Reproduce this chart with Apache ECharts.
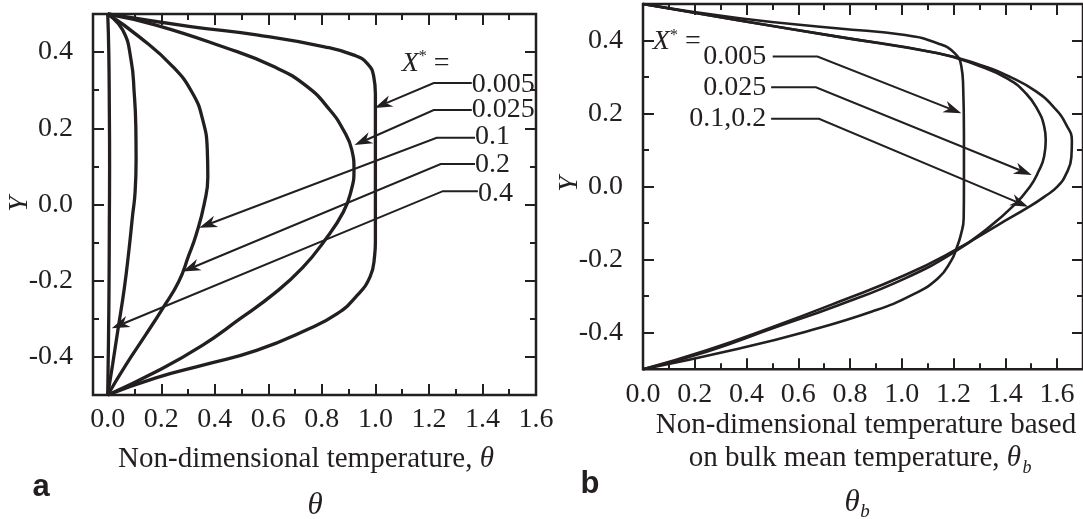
<!DOCTYPE html>
<html>
<head>
<meta charset="utf-8">
<script src="https://cdn.jsdelivr.net/npm/echarts@6/dist/echarts.min.js"></script>
<style>
  html, body { margin: 0; padding: 0; background: #fff; }
  #chart { width: 1083px; height: 519px; }
</style>
</head>
<body>
<div id="chart"></div>
<script>
var ink = '#231f20';
var serif = 'Liberation Serif';

// ---- panel a : [theta, Y], one array per X* ----
var thetaA_0005 = [[0, 0.5], [0.31, 0.467], [0.556, 0.445], [0.81, 0.414], [0.92, 0.392], [0.97, 0.37],
  [0.994, 0.335], [1.0, 0.29], [1.0, 0.2], [1.0, 0.1], [1.0, 0.0], [1.0, -0.1], [0.997, -0.135],
  [0.98, -0.19], [0.93, -0.24], [0.856, -0.287], [0.74, -0.33], [0.556, -0.383], [0.37, -0.419],
  [0.18, -0.455], [0, -0.5]];
var thetaA_0025 = [[0, 0.5], [0.18, 0.471], [0.43, 0.414], [0.62, 0.362], [0.744, 0.31], [0.83, 0.248],
  [0.88, 0.196], [0.912, 0.143], [0.92, 0.09], [0.91, 0.038], [0.88, -0.02], [0.81, -0.095],
  [0.729, -0.165], [0.625, -0.232], [0.492, -0.301], [0.355, -0.369], [0.18, -0.439], [0, -0.5]];
var thetaA_01 = [[0, 0.5], [0.118, 0.44], [0.243, 0.362], [0.317, 0.292], [0.355, 0.222], [0.372, 0.143],
  [0.374, 0.073], [0.361, 0.003], [0.33, -0.08], [0.302, -0.135], [0.265, -0.203], [0.205, -0.273],
  [0.141, -0.343], [0.068, -0.421], [0, -0.5]];
var thetaA_02 = [[0, 0.5], [0.056, 0.458], [0.087, 0.38], [0.099, 0.292], [0.105, 0.204], [0.106, 0.117],
  [0.102, 0.03], [0.093, -0.028], [0.08, -0.115], [0.062, -0.22], [0.037, -0.334], [0.018, -0.421], [0, -0.5]];
var thetaA_04 = [[0, 0.5], [0.004, 0.4], [0.006, 0.25], [0.007, 0.1], [0.006, -0.05], [0.005, -0.2],
  [0.003, -0.35], [0, -0.5]];

// leader arrows: [label side theta, Y, knee theta, Y, tip theta, tip Y]
var arrowsA = [[1.36, 0.319, 1.218, 0.319, 0.997, 0.253],
  [1.36, 0.248, 1.218, 0.248, 0.922, 0.156],
  [1.372, 0.175, 1.229, 0.175, 0.342, -0.061],
  [1.372, 0.106, 1.244, 0.106, 0.28, -0.176],
  [1.383, 0.035, 1.252, 0.035, 0.015, -0.325]];
var labelsA = ['0.005', '0.025', '0.1', '0.2', '0.4'];
var labelPosA = [[1.36, 0.314], [1.36, 0.248], [1.372, 0.177], [1.372, 0.104], [1.383, 0.028]];
var xStarPosA = [[1.098, 0.371]];

// ---- panel b : [theta_b, Y] ----
var thetaB_0005 = [[0, 0.5], [0.373, 0.461], [0.757, 0.433], [1.013, 0.415], [1.14, 0.392], [1.205, 0.365],
  [1.23, 0.329], [1.237, 0.274], [1.24, 0.146], [1.24, 0.0], [1.239, -0.087], [1.228, -0.132],
  [1.211, -0.169], [1.192, -0.201], [1.14, -0.251], [1.038, -0.297], [0.885, -0.342], [0.629, -0.397],
  [0.373, -0.443], [0, -0.5]];
var thetaB_0025 = [[0, 0.5], [0.373, 0.455], [0.757, 0.41], [1.14, 0.365], [1.3, 0.33], [1.41, 0.295],
  [1.48, 0.255], [1.525, 0.21], [1.55, 0.165], [1.556, 0.128], [1.55, 0.083], [1.527, 0.04], [1.495, 0.0],
  [1.435, -0.05], [1.332, -0.114], [1.205, -0.178], [1.013, -0.251], [0.757, -0.324], [0.501, -0.388],
  [0.246, -0.452], [0, -0.5]];
var thetaB_01_02 = [[0, 0.5], [0.373, 0.455], [0.757, 0.41], [1.14, 0.365], [1.3, 0.334], [1.42, 0.3],
  [1.52, 0.26], [1.59, 0.215], [1.635, 0.17], [1.657, 0.125], [1.655, 0.08], [1.635, 0.035], [1.601, 0.0],
  [1.55, -0.028], [1.499, -0.052], [1.371, -0.105], [1.205, -0.174], [1.013, -0.242], [0.757, -0.315],
  [0.501, -0.384], [0.246, -0.448], [0, -0.5]];

var arrowsB = [[0.501, 0.356, 0.674, 0.356, 1.23, 0.201],
  [0.495, 0.272, 0.668, 0.272, 1.502, 0.032],
  [0.495, 0.186, 0.68, 0.186, 1.488, -0.055]];
var labelsB = ['0.005', '0.025', '0.1,0.2'];
var labelPosB = [[0.476, 0.356], [0.476, 0.272], [0.476, 0.186]];
var xStarPosB = [[0.038, 0.396]];

// ticks and tick labels
var xMajor = [0, 0.2, 0.4, 0.6, 0.8, 1.0, 1.2, 1.4, 1.6];
var xMinorA = [0.1, 0.3, 0.5, 0.7, 0.9, 1.1, 1.3, 1.5];
var xMinorB = [0.1, 0.3, 0.5, 0.7, 0.9, 1.1, 1.3, 1.5, 1.7];
var yMajor = [-0.4, -0.2, 0, 0.2, 0.4];
var yMinor = [-0.3, -0.1, 0.1, 0.3];

function fmt(v) { return v.toFixed(1); }

// four axes per direction per grid: labelled major, minor, mirrored major, mirrored minor
function makeAxes(dim, gridIndex, min, max, major, minor, margin) {
  var sides = dim === 'x' ? ['bottom', 'top'] : ['left', 'right'];
  var list = [];
  sides.forEach(function (side, k) {
    [[major, 11], [minor, 6]].forEach(function (t, j) {
      list.push({
        type: 'value', gridIndex: gridIndex, position: side, min: min, max: max,
        axisLine: { show: false, onZero: false },
        splitLine: { show: false },
        axisTick: { show: true, inside: true, length: t[1], customValues: t[0], lineStyle: { color: ink, width: 2 } },
        axisLabel: (k === 0 && j === 0) ? {
          show: true, customValues: major, formatter: fmt, margin: margin,
          color: ink, fontFamily: serif, fontSize: 28
        } : { show: false }
      });
    });
  });
  return list;
}

function curve(name, data, axisIndex, width) {
  return {
    type: 'line', name: name, data: data, xAxisIndex: axisIndex, yAxisIndex: axisIndex,
    showSymbol: false, symbol: 'none', smooth: 0.5, clip: false, silent: true,
    lineStyle: { color: ink, width: width }
  };
}

function renderArrow(params, api) {
  var p0 = api.coord([api.value(0), api.value(1)]);
  var p1 = api.coord([api.value(2), api.value(3)]);
  var p2 = api.coord([api.value(4), api.value(5)]);
  var dx = p2[0] - p1[0], dy = p2[1] - p1[1];
  var len = Math.sqrt(dx * dx + dy * dy);
  var ux = dx / len, uy = dy / len;
  var hl = 18, hw = 6;
  var bx = p2[0] - ux * hl, by = p2[1] - uy * hl;
  var nx = p2[0] - ux * hl * 0.7, ny = p2[1] - uy * hl * 0.7;
  return {
    type: 'group',
    children: [
      { type: 'polyline', shape: { points: [p0, p1, [nx, ny]] }, style: { stroke: ink, lineWidth: 2, fill: null } },
      { type: 'polygon', shape: { points: [p2, [bx - uy * hw, by + ux * hw], [nx, ny], [bx + uy * hw, by - ux * hw]] },
        style: { fill: ink } }
    ]
  };
}

function arrows(data, axisIndex) {
  return {
    type: 'custom', data: data, xAxisIndex: axisIndex, yAxisIndex: axisIndex, clip: false, silent: true,
    dimensions: ['x0', 'y0', 'x1', 'y1', 'x2', 'y2'], encode: { x: [0, 2, 4], y: [1, 3, 5] },
    renderItem: renderArrow
  };
}

var xStarText = '{x|X}{s|*} =';
var richXStar = {
  x: { fontFamily: serif, fontSize: 28, fontStyle: 'italic', fill: ink },
  s: { fontFamily: serif, fontSize: 16, fill: ink, verticalAlign: 'top' }
};

function texts(pos, strs, align, axisIndex) {
  return {
    type: 'custom', data: pos, xAxisIndex: axisIndex, yAxisIndex: axisIndex, clip: false, silent: true,
    renderItem: function (params, api) {
      var p = api.coord([api.value(0), api.value(1)]);
      return {
        type: 'text', x: p[0], y: p[1],
        style: { text: strs[params.dataIndex], fontFamily: serif, fontSize: 28, fill: ink,
          align: align, verticalAlign: 'middle', rich: richXStar }
      };
    }
  };
}

function gText(x, y, text, font, extra) {
  var st = { text: text, fill: ink, align: 'center', verticalAlign: 'middle',
    fontFamily: font.family, fontSize: font.size, fontStyle: font.style || 'normal', fontWeight: font.weight || 'normal' };
  for (var k in extra) st[k] = extra[k];
  return { type: 'text', x: x, y: y, rotation: font.rotation || 0, style: st };
}

var titleRich = {
  n: { fontFamily: serif, fontSize: 29, fill: ink },
  i: { fontFamily: serif, fontSize: 29, fontStyle: 'italic', fill: ink }
};

var chart = echarts.init(document.getElementById('chart'));
chart.setOption({
  animation: false,
  backgroundColor: '#fff',
  grid: [
    { left: 93, top: 14, width: 443, height: 381, show: true, borderColor: ink, borderWidth: 2.5 },
    { left: 643, top: 4, width: 442.7, height: 365.3, show: true, borderColor: ink, borderWidth: 2.5 }
  ],
  xAxis: makeAxes('x', 0, -0.055, 1.6, xMajor, xMinorA, 11).concat(makeAxes('x', 1, 0, 1.7, xMajor, xMinorB, 11)),
  yAxis: makeAxes('y', 0, -0.5, 0.5, yMajor, yMinor, 20).concat(makeAxes('y', 1, -0.5, 0.5, yMajor, yMinor, 20)),
  series: [
    curve('0.005', thetaA_0005, 0, 3.3),
    curve('0.025', thetaA_0025, 0, 3.3),
    curve('0.1', thetaA_01, 0, 3.3),
    curve('0.2', thetaA_02, 0, 3.3),
    curve('0.4', thetaA_04, 0, 3.3),
    arrows(arrowsA, 0),
    texts(labelPosA, labelsA, 'left', 0),
    texts(xStarPosA, [xStarText], 'left', 0),
    curve('0.005', thetaB_0005, 4, 2.6),
    curve('0.025', thetaB_0025, 4, 2.6),
    curve('0.1,0.2', thetaB_01_02, 4, 2.6),
    arrows(arrowsB, 4),
    texts(labelPosB, labelsB, 'right', 4),
    texts(xStarPosB, [xStarText], 'left', 4)
  ],
  graphic: [
    gText(20, 204, 'Y', { family: serif, size: 28, style: 'italic', rotation: Math.PI / 2 }, {}),
    gText(570, 184, 'Y', { family: serif, size: 28, style: 'italic', rotation: Math.PI / 2 }, {}),
    gText(306, 459, '{n|Non-dimensional temperature, }{i|θ}', { family: serif, size: 29 }, { rich: titleRich }),
    gText(866, 425, 'Non-dimensional temperature based', { family: serif, size: 29 }, {}),
    gText(1021, 458, '{n|on bulk mean temperature, }{i|θ}', { family: serif, size: 29 }, { rich: titleRich, align: 'right' }),
    gText(1027, 468, 'b', { family: serif, size: 18, style: 'italic' }, {}),
    gText(41, 487, 'a', { family: 'Liberation Sans', size: 31, weight: 'bold' }, {}),
    gText(590, 484, 'b', { family: 'Liberation Sans', size: 31, weight: 'bold' }, {}),
    gText(315, 506, 'θ', { family: serif, size: 31, style: 'italic' }, {}),
    gText(852, 503, 'θ', { family: serif, size: 31, style: 'italic' }, {}),
    gText(865, 512, 'b', { family: serif, size: 19, style: 'italic' }, {})
  ]
});
</script>
</body>
</html>
